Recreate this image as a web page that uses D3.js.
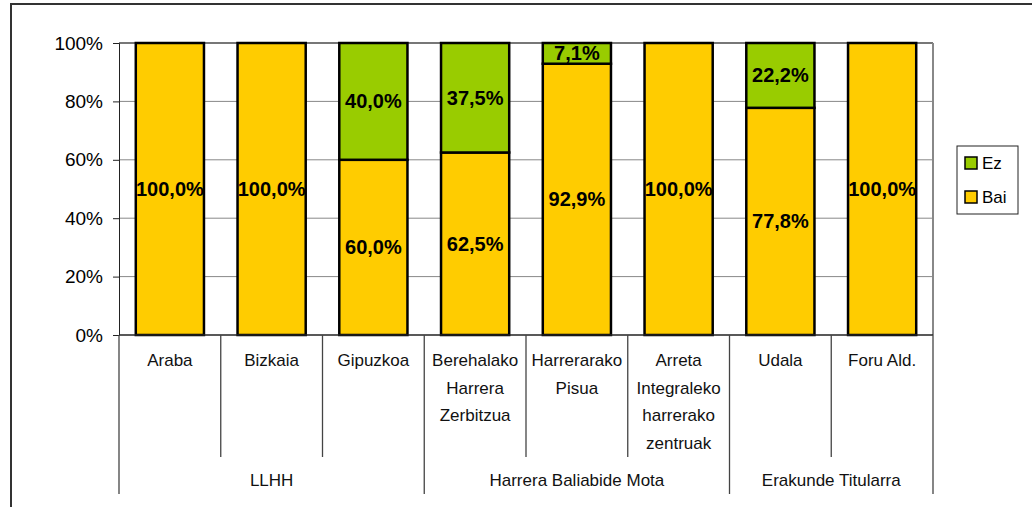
<!DOCTYPE html>
<html>
<head>
<meta charset="utf-8">
<script src="https://cdn.jsdelivr.net/npm/d3@7"></script>
<style>
  body { margin: 0; background: #fff; }
  text { font-family: "Liberation Sans", Arial, sans-serif; }
</style>
</head>
<body>
<div id="chart"></div>
<script>
// categories (multi-line labels) and their groups
var categories = ["Araba", "Bizkaia", "Gipuzkoa", "Berehalako Harrera Zerbitzua", "Harrerarako Pisua",
                  "Arreta Integraleko harrerako zentruak", "Udala", "Foru Ald."];
var catLines = [["Araba"], ["Bizkaia"], ["Gipuzkoa"], ["Berehalako", "Harrera", "Zerbitzua"],
                ["Harrerarako", "Pisua"], ["Arreta", "Integraleko", "harrerako", "zentruak"], ["Udala"], ["Foru Ald."]];
var groups = [
  {name: "LLHH", from: 0, to: 3},
  {name: "Harrera Baliabide Mota", from: 3, to: 6},
  {name: "Erakunde Titularra", from: 6, to: 8}
];
var bai = [100, 100, 60, 62.5, 92.9, 100, 77.8, 100];
var ez = [0, 0, 40, 37.5, 7.1, 0, 22.2, 0];
var yTicks = [0, 20, 40, 60, 80, 100];

var colors = {Bai: "#ffcc00", Ez: "#99cc00"};

var svgWidth = 1032, svgHeight = 507;
var margin = {top: 43, left: 119};
var plotW = 933 - 119, plotH = 335 - 43;

var svg = d3.select("#chart").append("svg")
  .attr("width", svgWidth).attr("height", svgHeight);

// outer frame
svg.append("rect").attr("x", 11).attr("y", 4).attr("width", 1040).attr("height", 520)
  .attr("fill", "none").attr("stroke", "#333").attr("stroke-width", 2);

var g = svg.append("g").attr("transform", `translate(${margin.left},${margin.top})`);

var x = d3.scaleBand().domain(d3.range(categories.length)).range([0, plotW]).paddingInner(0.33).paddingOuter(0.165);
var y = d3.scaleLinear().domain([0, 100]).range([plotH, 0]);

// gridlines
g.selectAll(".grid").data(yTicks.filter(d => d > 0)).enter().append("line")
  .attr("x1", 0).attr("x2", plotW)
  .attr("y1", d => y(d)).attr("y2", d => y(d))
  .attr("stroke", d => d === 100 ? "#777" : "#888").attr("stroke-width", d => d === 100 ? 2 : 1);

// right frame of plot area
g.append("line").attr("x1", plotW).attr("x2", plotW).attr("y1", 0).attr("y2", plotH)
  .attr("stroke", "#888").attr("stroke-width", 2);

// y axis
var yAxis = d3.axisLeft(y).tickValues(yTicks).tickFormat(d => d + "%").tickSize(6).tickPadding(10);
var ya = g.append("g").call(yAxis);
ya.select(".domain").attr("stroke", "#222");
ya.selectAll(".tick line").attr("stroke", "#222");
ya.selectAll("text").attr("font-size", 19).attr("fill", "#000")
  .style("font-family", '"Liberation Sans", Arial, sans-serif');

// bars
var stackData = categories.map((c, i) => ({i: i, Bai: bai[i], Ez: ez[i]}));
var series = d3.stack().keys(["Bai", "Ez"])(stackData);

series.forEach(function(s) {
  var key = s.key;
  var sel = g.selectAll(".bar-" + key).data(s.filter(d => d[1] - d[0] > 0)).enter();
  sel.append("rect")
    .attr("x", d => x(d.data.i))
    .attr("width", x.bandwidth())
    .attr("y", d => y(d[1]))
    .attr("height", d => y(d[0]) - y(d[1]))
    .attr("fill", colors[key]).attr("stroke", "#000").attr("stroke-width", 2.5);
  sel.append("text")
    .attr("x", d => x(d.data.i) + x.bandwidth() / 2)
    .attr("y", d => (y(d[0]) + y(d[1])) / 2)
    .attr("dy", "0.35em")
    .attr("text-anchor", "middle")
    .attr("font-size", 20).attr("font-weight", "bold")
    .text(d => (d[1] - d[0]).toFixed(1).replace(".", ",") + "%");
});

// x axis baseline
g.append("line").attr("x1", 0).attr("x2", plotW).attr("y1", plotH).attr("y2", plotH)
  .attr("stroke", "#222").attr("stroke-width", 1.5);

// category separators and labels
var step = x.step();
var groupStarts = groups.map(d => d.from).concat([categories.length]);
d3.range(categories.length + 1).forEach(function(k) {
  var isGroup = groupStarts.indexOf(k) >= 0;
  g.append("line")
    .attr("x1", k * step).attr("x2", k * step)
    .attr("y1", plotH).attr("y2", isGroup ? 494 - margin.top : 457 - margin.top)
    .attr("stroke", "#444").attr("stroke-width", 1.3);
});

catLines.forEach(function(lines, i) {
  var t = g.append("text").attr("text-anchor", "middle").attr("font-size", 17).attr("fill", "#111");
  lines.forEach(function(l, j) {
    t.append("tspan").attr("x", (i + 0.5) * step).attr("y", 366 - margin.top + j * 27.5).text(l);
  });
});

groups.forEach(function(gr) {
  g.append("text").attr("text-anchor", "middle").attr("font-size", 17).attr("fill", "#111")
    .attr("x", (gr.from + gr.to) / 2 * step).attr("y", 486 - margin.top).text(gr.name);
});

// legend
var legend = svg.append("g").attr("transform", "translate(957,146)");
legend.append("rect").attr("width", 61).attr("height", 68).attr("fill", "#fff")
  .attr("stroke", "#222").attr("stroke-width", 1);
["Ez", "Bai"].forEach(function(k, i) {
  var ly = 17 + i * 34;
  legend.append("rect").attr("x", 8).attr("y", ly - 6).attr("width", 12).attr("height", 12)
    .attr("fill", colors[k]).attr("stroke", "#000").attr("stroke-width", 1.5);
  legend.append("text").attr("x", 25).attr("y", ly).attr("dy", "0.35em")
    .attr("font-size", 17).text(k);
});
</script>
</body>
</html>
